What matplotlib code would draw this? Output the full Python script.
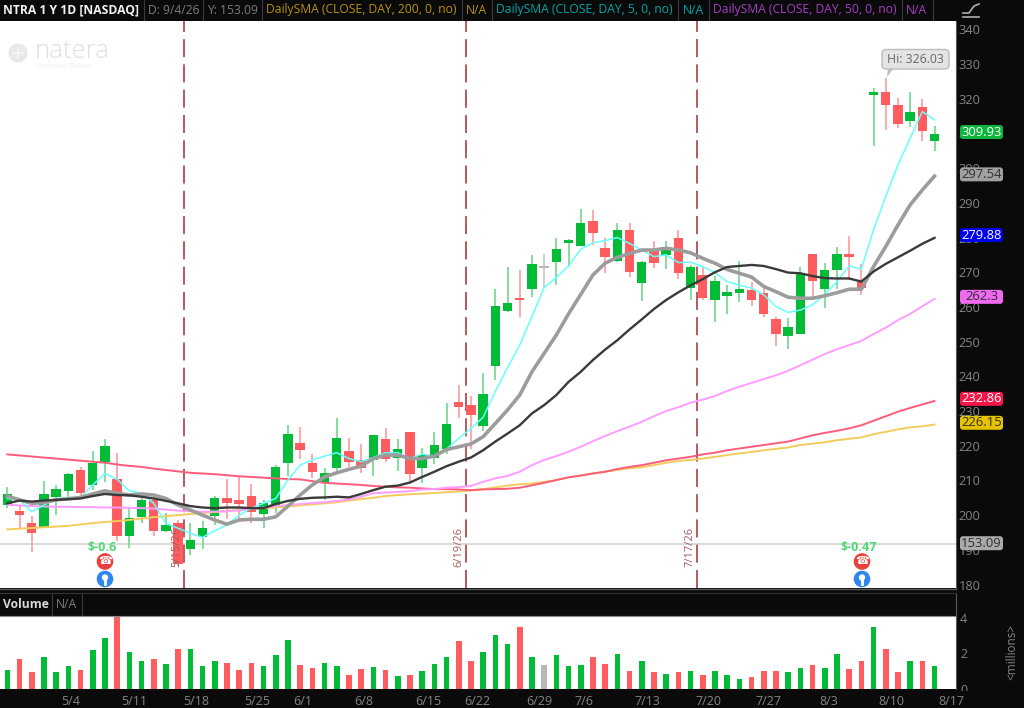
import numpy as np
import matplotlib
matplotlib.use('Agg')
import matplotlib.pyplot as plt
from matplotlib.patches import FancyBboxPatch, Circle, Polygon, Rectangle

plt.rcParams['font.family'] = ['Open Sans', 'DejaVu Sans']

# candles, one value per trading day
opens = [203, 201.3, 197.6, 196.5, 205.3, 207, 213, 208.6, 215.3, 210.3, 194.1, 199.4, 204.4, 195.4, 197.8, 190.1,
         193.6, 199.8, 205, 204.5, 205.5, 200.3, 202.6, 215.1, 220.9, 214.9, 209.3, 213.7, 218.4, 215.9, 215.9, 221.8,
         216.6, 224, 213.5, 216.5, 219, 232.7, 231.8, 225.7, 243, 258.8, 262.5, 265.1, 271.6, 273, 278.5, 277.6,
         284.7, 276.9, 273.2, 282.2, 267, 276.4, 274.9, 280, 265.4, 269.2, 262, 263.2, 264.1, 264.9, 263.9, 256.5,
         251.5, 252.2, 275.3, 265.1, 270.5, 275.3, 267.3, 321.1, 321.8, 318.1, 313.6, 317.7, 307.9]
highs = [208, 202.6, 199.8, 209.9, 208.7, 212.2, 214, 218.5, 221.8, 217.8, 202.2, 205.3, 205.5, 200.5, 198.6, 197.6,
         198.3, 205.5, 210.3, 210.9, 209, 204.5, 214.4, 226, 225.3, 217.6, 213.5, 228.1, 222.1, 220.4, 223, 225,
         221.8, 224, 219.3, 224, 232.2, 237.5, 234.3, 240.9, 265.1, 271.6, 270.6, 275, 275.2, 279.8, 279.5, 288.1,
         287.9, 280, 284.1, 284.1, 273.3, 279, 279, 282.2, 272.1, 271.8, 268.9, 266.3, 273.3, 267.3, 266.3, 257.2,
         256.7, 271.4, 275.3, 272.8, 277.2, 280.3, 272.4, 323, 326.03, 320.3, 321.8, 319.9, 312.1]
lows = [202, 196.2, 189.5, 196.5, 200, 205.1, 205.5, 207.2, 209.6, 192.6, 190.4, 197.8, 194.1, 195.2, 185.2, 188.5,
        190.1, 197.2, 198.8, 199, 197.6, 196.4, 200.7, 211.3, 216.3, 210.6, 204.3, 212, 214, 212, 211.3, 215.4,
        212.8, 209, 209.3, 214.7, 217.6, 227.9, 219.2, 224.3, 239, 258.4, 257, 263, 265.6, 266.3, 271.6, 277.6,
        277.8, 269.7, 273, 268.7, 261.6, 271.1, 270.9, 268, 262, 262, 255.8, 257.9, 261.5, 260.4, 257, 248.6,
        247.9, 252.2, 263, 259.8, 265.1, 267.8, 263.5, 306.4, 311, 311.6, 311.9, 307.9, 305]
closes = [206, 200, 194.8, 206.1, 207.4, 211.8, 206.5, 215.1, 219.9, 194.1, 199.3, 204.4, 195.4, 197.1, 185.9, 192.8,
          196.2, 205, 203.5, 203.1, 201, 203.4, 214, 223.4, 218.7, 212.5, 212, 222.1, 215.4, 213.7, 223, 216.3,
          219.2, 211.8, 217.3, 220.2, 226.4, 231.2, 228.8, 234.9, 260.3, 261, 262, 272.4, 271.3, 276.6, 279.3, 284.1,
          281.4, 274.3, 282.2, 270.1, 273, 272.6, 277.4, 269.7, 271.6, 262.7, 267.5, 264.4, 265.1, 262, 257.9, 252.2,
          254.2, 269.4, 267.6, 270.7, 275.3, 274.5, 265.4, 322, 318.2, 312.6, 316.2, 310.7, 309.8]
flat_days = [44]

# moving averages
sma5 = [204.8, 204.4, 201, 202.9, 204.6, 205.1, 205.1, 208.7, 212, 210.3, 207, 206.3, 203.4, 197.6, 196.2, 194.8,
        193.6, 195.5, 197.2, 200, 202, 203.4, 204.8, 210.1, 214.4, 215.9, 217, 218, 216.3, 215.4, 216.6, 218,
        218, 216.3, 217.6, 217, 219, 222.1, 225, 228.2, 235.6, 242.5, 249, 257.2, 265.6, 268.5, 271.8, 276.6,
        278.5, 279.1, 280, 278.3, 276.4, 274.5, 275, 272.8, 272.9, 271.6, 269.9, 267.3, 266.3, 265.4, 263.5, 260.1,
        258.4, 259.1, 260.6, 263.5, 267.3, 271.8, 270.9, 282.2, 291.8, 300.9, 308.6, 316.3, 313.9]
sma_grey = [205.5, 204.4, 203.4, 203.6, 204.4, 204.7, 205.1, 206.1, 207, 206.3, 205.8, 206.1, 205.8, 204.8, 202.9, 201.5,
            200, 198.6, 197.4, 198.6, 198.8, 198.8, 199.5, 202.6, 205.8, 208.7, 211, 212.2, 213.2, 214.1, 216.3, 217.3,
            217.3, 216.3, 216.3, 217, 218.9, 219.7, 220.5, 222.6, 226.4, 230.3, 234.6, 241.3, 246.6, 251.9, 258, 263.6,
            269.2, 272.6, 274.3, 275.4, 276.4, 276.4, 276.9, 276.4, 275.6, 274, 272.6, 270.8, 269.7, 268.6, 265.9, 264.4,
            262.8, 262.5, 262.5, 263.2, 264.1, 265.1, 265.1, 271.6, 277.4, 283.6, 289.4, 293.7, 297.7]
sma_black = [203.4, 204.2, 203.9, 204.2, 204.4, 204.6, 204.8, 205.5, 206.1, 205.8, 205.7, 205.3, 204.8, 204.1, 203.4, 202.6,
             202.2, 202, 202.2, 202.2, 202, 202, 203.2, 204.1, 204.7, 205, 205.1, 205.3, 205.1, 206.1, 207.2, 208.2,
             208.5, 209.4, 211, 212.5, 214.1, 215.4, 216.6, 218.7, 221.2, 223.5, 225.9, 229.3, 231.7, 234.6, 238.4, 241.3,
             244.7, 247.7, 250.4, 253.5, 256.4, 259.4, 262, 264.2, 266.2, 268, 270, 271.5, 271.8, 272.1, 271.8, 270.9,
             269.9, 269.7, 268.9, 268.3, 268.2, 268.2, 267.3, 270.2, 272.4, 274.3, 276.2, 278.2, 279.9]
sma50 = [203, 202.8, 202.6, 202.5, 202.4, 202.4, 202.3, 202.3, 202.2, 202.2, 202.1, 202, 201.9, 201.6, 201.3, 201.1,
         201, 201, 201.1, 201.4, 201.8, 202.2, 202.6, 202.9, 203.2, 203.5, 203.7, 204.1, 204.5, 205.3, 206.3, 206.5,
         206.7, 206.9, 207.4, 207.5, 207.9, 208.1, 208.4, 209.6, 210.6, 211.3, 212.5, 214.4, 215.9, 217, 218.3, 219.7,
         221.3, 222.8, 224.2, 225.5, 226.9, 228.5, 230, 231.1, 232.4, 233.3, 234.3, 235.8, 237, 238.1, 239.2, 240.3,
         241.6, 243.2, 244.8, 246.4, 247.8, 249, 250.2, 252.2, 254, 256.2, 258, 260.2, 262.3]
sma_red = [217.5, 217.2, 216.9, 216.6, 216.3, 216, 215.7, 215.4, 215.1, 214.6, 214.2, 213.9, 213.4, 213, 212.6, 212.2,
           212, 211.8, 211.5, 211.2, 211, 210.8, 210.6, 210.4, 210.3, 209.8, 209.3, 209.1, 208.9, 208.7, 208.4, 208.2,
           208, 207.9, 207.7, 207.5, 207.5, 207.4, 207.2, 207.4, 207.5, 207.6, 207.9, 208.6, 209.3, 210.1, 210.9, 211.4,
           212, 212.5, 213.3, 213.9, 214.4, 215.1, 215.8, 216.3, 216.8, 217.5, 218, 218.7, 219.2, 219.7, 220.2, 220.7,
           221.2, 222.1, 223, 223.7, 224.3, 225, 225.9, 227.2, 228.5, 229.8, 230.9, 231.9, 232.9]
sma200 = [195.9, 196.1, 196.3, 196.5, 196.7, 196.9, 197.3, 197.7, 198, 198.3, 198.6, 199, 199.4, 199.7, 200, 200.3,
          200.6, 200.9, 201.2, 201.5, 201.8, 202, 202.2, 202.5, 202.8, 203.1, 203.4, 203.7, 204.2, 204.6, 205, 205.5,
          205.8, 206, 206.2, 206.4, 206.6, 206.8, 207.1, 207.5, 208, 208.5, 208.9, 209.1, 209.6, 210.1, 210.9, 211.4,
          212, 212.5, 213, 213.5, 213.8, 214.4, 215.1, 215.6, 215.9, 216.3, 216.8, 217.3, 217.8, 218.2, 218.7, 219.1,
          219.5, 220.2, 220.6, 221, 221.6, 222, 222.4, 223.3, 224, 224.7, 225.3, 225.6, 226.1]

# volume in millions
volume = [1.06, 1.68, 0.94, 1.79, 0.94, 1.30, 1.06, 2.17, 2.85, 4.07, 2.09, 1.60, 1.68, 1.43, 2.28, 2.23,
          1.30, 1.55, 1.49, 1.06, 1.49, 1.30, 1.92, 2.77, 1.36, 1.17, 1.49, 1.30, 0.81, 1.11, 1.25, 1.06,
          0.74, 0.81, 1.0, 1.43, 1.79, 2.72, 1.60, 2.09, 3.02, 2.53, 3.51, 1.79, 1.36, 1.92, 1.30, 1.36,
          1.79, 1.43, 1.98, 1.0, 1.55, 0.94, 0.87, 0.94, 1.0, 0.81, 1.0, 0.81, 0.57, 0.68, 1.0, 1.0,
          0.94, 1.17, 1.36, 1.17, 1.98, 1.11, 1.60, 3.51, 2.23, 0.94, 1.60, 1.55, 1.30]

date_labels = ['5/4', '5/11', '5/18', '5/25', '6/1', '6/8', '6/15', '6/22', '6/29', '7/6', '7/13', '7/20', '7/27',
               '8/3', '8/10', '8/17']
date_ticks = [5.2, 10.4, 15.5, 20.5, 24.2, 29.2, 34.5, 38.5, 43.6, 47.3, 52.5, 57.5, 62.4, 67.3, 72.5, 77.4]
price_ticks = list(range(180, 350, 10))
volume_ticks = [0, 2, 4]

event_days = [14.48, 37.56, 56.53]
event_labels = ['5/15/26', '6/19/26', '7/17/26']
earnings_days = [8, 70]
earnings_labels = ['$-0.6', '$-0.47']

# the grey line sits at 191.7 on the scale though its label says 153.09
close_line = 191.7
close_label = '153.09'
badges = [('309.93', 310.4, '#0cb53c', '#ffffff'), ('297.54', 298.2, '#a0a0a0', '#303030'),
          ('279.88', 280.7, '#0000ee', '#ffffff'), ('262.3', 262.9, '#f06af0', '#303030'),
          ('232.86', 233.5, '#f5164a', '#ffffff'), ('226.15', 226.6, '#e6c200', '#303030'),
          (close_label, 191.9, '#aaaaaa', '#303030')]

W, H = 1024, 708
BLACK = '#0a0a0a'
GREEN = '#02bb36'
RED = '#ff5c60'
GREY_TXT = '#858585'
fig = plt.figure(figsize=(W / 100, H / 100), dpi=100, facecolor=BLACK)


def px_axes(left, top, right, bottom):
    return fig.add_axes([left / W, 1 - bottom / H, (right - left) / W, (bottom - top) / H])


days = np.arange(len(opens))
x_limits = (-0.6, 77.76)
colors = [GREEN if c > o else RED for o, c in zip(opens, closes)]
wick_colors = ['#6fd88c' if c > o else '#ff9a9c' for o, c in zip(opens, closes)]
for d in flat_days:
    colors[d] = '#b8b8b8'
    wick_colors[d] = '#c8c8c8'

ax = px_axes(0, 21, 956, 588)
ax.set_facecolor('white')
ax.set_xlim(x_limits)
ax.set_ylim(179, 342.4)
ax.axhline(close_line, color='#d4d4d4', lw=1.2, zorder=1)

for d, label in zip(event_days, event_labels):
    ax.axvline(d, color='#b04e4e', lw=1.3, dashes=(10, 4), zorder=2)
    ax.text(d - 0.55, 196.6, label, rotation=90, color='#a85a5a', fontsize=8, ha='center', va='top', zorder=5)

ax.vlines(days, lows, highs, colors=wick_colors, lw=1.2, zorder=3)
bottoms = np.minimum(opens, closes)
heights = np.maximum(np.abs(np.array(closes) - np.array(opens)), 0.4)
ax.bar(days, heights, bottom=bottoms, width=0.78, color=colors, zorder=4)

ax.plot(days, sma200, color='#f4cc5c', lw=1.4, zorder=6)
ax.plot(days, sma_red, color='#ff5c7c', lw=1.4, zorder=6)
ax.plot(days, sma50, color='#ff9cff', lw=1.4, zorder=6)
ax.plot(days, sma5, color='#66ffff', lw=1.1, zorder=6)
ax.plot(days, sma_grey, color='#9c9c9c', lw=2.6, zorder=7)
ax.plot(days, sma_black, color='#3a3a3a', lw=1.7, zorder=8)

for d, label in zip(earnings_days, earnings_labels):
    ax.text(d - 0.2, 190.6, label, color='#4fd873', fontsize=9, fontweight='bold', ha='center', va='center', zorder=9)

ax.set_xticks([])
ax.yaxis.tick_right()
ax.set_yticks(price_ticks)
ax.tick_params(axis='y', length=0, pad=2, labelcolor=GREY_TXT, labelsize=9.2)
for s in ax.spines.values():
    s.set_visible(False)

vax = px_axes(0, 616, 956, 689)
vax.set_facecolor('white')
vax.set_xlim(x_limits)
vax.set_ylim(0, 4.11)
vax.bar(days, volume, width=0.46, color=colors)
vax.yaxis.tick_right()
vax.set_yticks(volume_ticks)
vax.set_xticks(date_ticks)
vax.set_xticklabels(date_labels)
vax.tick_params(axis='both', length=0, labelcolor=GREY_TXT, labelsize=9, pad=3)
vax.tick_params(axis='x', pad=4)
for s in vax.spines.values():
    s.set_visible(False)

# overlay in picture pixels for the header, badges and icons
ov = fig.add_axes([0, 0, 1, 1], zorder=10)
ov.set_xlim(0, W)
ov.set_ylim(H, 0)
ov.axis('off')

header = [(3, 'NTRA 1 Y 1D [NASDAQ]', '#f2f2f2', 'bold'), (148, 'D: 9/4/26', '#7d7d7d', 'normal'),
          (207, 'Y: 153.09', '#7d7d7d', 'normal'), (266, 'DailySMA (CLOSE, DAY, 200, 0, no)', '#b8920c', 'normal'),
          (466, 'N/A', '#b8920c', 'normal'), (496, 'DailySMA (CLOSE, DAY, 5, 0, no)', '#00a6a6', 'normal'),
          (683, 'N/A', '#00a6a6', 'normal'), (713, 'DailySMA (CLOSE, DAY, 50, 0, no)', '#a63fc4', 'normal'),
          (906, 'N/A', '#a63fc4', 'normal')]
for x, txt, col, weight in header:
    ov.text(x, 10, txt, color=col, fontsize=8.7, fontweight=weight, va='center', ha='left')
for x in [144, 203, 262, 462, 492, 678, 709, 902, 933]:
    ov.plot([x, x], [0, 20], color='#3c3c3c', lw=0.8)

ov.plot([0, 956], [593, 593], color='#333333', lw=0.8)
ov.plot([0, 956], [615.5, 615.5], color='#8a8a8a', lw=0.8)
ov.plot([956, 956], [594, 689], color='#5a5a5a', lw=0.8)
ov.plot([956, 956], [21, 588], color='#5a5a5a', lw=0.8)
ov.plot([0, 956], [588.5, 588.5], color='#5a5a5a', lw=1)
ov.text(3, 604, 'Volume', color='#d8d8d8', fontsize=8.7, fontweight='bold', va='center')
ov.text(56, 604, 'N/A', color='#7d7d7d', fontsize=8.7, va='center')
for x in [52, 82]:
    ov.plot([x, x], [594, 615], color='#3c3c3c', lw=0.8)
ov.text(1012, 652, '<millions>', color=GREY_TXT, fontsize=8.5, rotation=90, ha='center', va='center')

# the 0 of the volume scale is cut off by the strip below the panel
ov.add_patch(Rectangle((958, 690.5), 18, 5, fc=BLACK, ec='none', zorder=5))

# chart icon, top right
ov.plot([963, 969, 974, 979], [13, 13, 6, 4], color='#b0b0b0', lw=1.2)
ov.plot([963, 979], [17, 17], color='#b0b0b0', lw=1.2)

# price badges
y_to_px = lambda v: 584.5 - (v - 180) * 3.47
for txt, v, bg, fg in badges:
    y = y_to_px(v)
    ov.add_patch(FancyBboxPatch((960, y - 7), 43, 14, boxstyle='round,pad=0,rounding_size=3',
                                fc=bg, ec='none', zorder=3))
    ov.text(981.5, y, txt, color=fg, fontsize=9.4, ha='center', va='center', zorder=4)

# high callout
ov.add_patch(Polygon([[888, 68], [894, 68], [887, 77]], fc='#bdbdbd', ec='none', zorder=2))
ov.add_patch(FancyBboxPatch((882, 49.5), 67, 19.5, boxstyle='round,pad=0,rounding_size=4',
                            fc='#e4e4e4', ec='#bcbcbc', lw=1, zorder=3))
ov.text(915.5, 59.5, 'Hi: 326.03', color='#666666', fontsize=8.8, ha='center', va='center', zorder=4)

# watermark logo
ov.add_patch(Circle((18, 53), 9.5, fc='#e8e8e8', ec='none'))
ov.plot([18, 18], [48, 58], color='#f4f4f4', lw=1.5)
ov.plot([13, 23], [53, 53], color='#f4f4f4', lw=1.5)
ov.text(35, 52, 'natera', color='#dedede', fontsize=18.5, va='center', fontweight='light')
ov.text(36, 66, 'Conceive. Deliver.', color='#ececec', fontsize=5, va='center')

# earnings icons
for x in [105, 862]:
    ov.add_patch(Circle((x, 561.5), 8.3, fc='#e8403c', ec='none'))
    ov.text(x, 561, '\u260e', color='white', fontsize=8, ha='center', va='center', family=['DejaVu Sans'])
    ov.add_patch(Circle((x, 579), 8.3, fc='#2f86f0', ec='none'))
    ov.add_patch(Circle((x, 577.5), 3.2, fc='white', ec='none'))
    ov.plot([x, x], [580, 584], color='white', lw=2)

fig.savefig('out.png', dpi=100, facecolor=fig.get_facecolor())
